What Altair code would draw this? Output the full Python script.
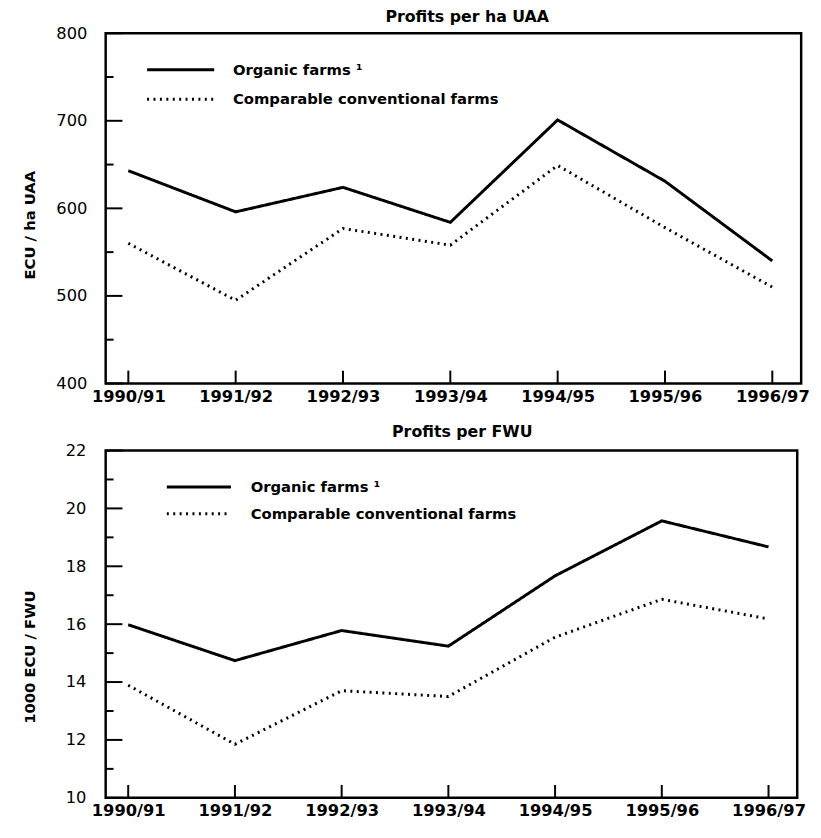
import altair as alt
import pandas as pd

periods = ["1990/91", "1991/92", "1992/93", "1993/94", "1994/95", "1995/96", "1996/97"]
series_names = ["Organic farms \u00b9", "Comparable conventional farms"]

uaa_organic = [643, 596, 624, 584, 701, 631, 540]
uaa_conventional = [560, 495, 577, 558, 649, 578, 510]
fwu_organic = [15.98, 14.74, 15.78, 15.24, 17.67, 19.57, 18.67]
fwu_conventional = [13.89, 11.85, 13.70, 13.50, 15.55, 16.86, 16.18]

uaa_major = [400, 500, 600, 700, 800]
uaa_minor = [450, 550, 650, 750]
fwu_major = [10, 12, 14, 16, 18, 20, 22]
fwu_minor = [11, 13, 15, 17, 19, 21]

FONT = "DejaVu Sans"
DASHES = [[1, 0], [2, 4.5]]


def panel(title, ytitle, organic, conventional, major, minor, w, h,
          title_dx, title_off, title_y, label_pad, leg_x, leg_len, leg_gap, leg_y, leg_dy):
    rows = []
    for p, o, c in zip(periods, organic, conventional):
        rows.append({"period": p, "series": series_names[0], "value": o})
        rows.append({"period": p, "series": series_names[1], "value": c})
    df = pd.DataFrame(rows)

    xenc = alt.X("period:N", sort=periods,
                 scale=alt.Scale(type="point", domain=periods, padding=0.24, align=0.44),
                 axis=alt.Axis(title=None, ticks=False, domain=False, grid=False,
                               labelAngle=0, labelFont=FONT, labelFontWeight="bold",
                               labelFontSize=16.5, labelColor="black", labelPadding=5))
    yenc = alt.Y("value:Q",
                 scale=alt.Scale(domain=[major[0], major[-1]], nice=False, zero=False),
                 axis=alt.Axis(title=ytitle, values=major, ticks=False, domain=False,
                               grid=False, format="d", labelFont=FONT, labelFontSize=16.5,
                               labelColor="black", labelPadding=label_pad,
                               titleFont=FONT, titleFontSize=15, titleFontWeight="bold",
                               titleColor="black", titleX=-69, titleY=title_y))

    lines = alt.Chart(df).mark_line(color="black", strokeWidth=3).encode(
        x=xenc, y=yenc,
        strokeDash=alt.StrokeDash("series:N",
                                  scale=alt.Scale(domain=series_names, range=DASHES),
                                  legend=None),
    )

    xticks = alt.Chart(pd.DataFrame({"period": periods})).mark_rule(
        color="black", strokeWidth=2).encode(
        x=xenc, y=alt.value(h), y2=alt.value(h - 13))

    major_df = pd.DataFrame({"value": major})
    minor_df = pd.DataFrame({"value": minor})
    ymaj = alt.Chart(major_df).mark_rule(color="black", strokeWidth=2).encode(
        y=yenc, x=alt.value(0), x2=alt.value(17))
    ymin = alt.Chart(minor_df).mark_rule(color="black", strokeWidth=2).encode(
        y=yenc, x=alt.value(0), x2=alt.value(8))

    legend_layers = []
    for i, name in enumerate(series_names):
        ldf = pd.DataFrame({"series": [name]})
        yy = leg_y + i * leg_dy
        legend_layers.append(
            alt.Chart(ldf).mark_rule(color="black", strokeWidth=3,
                                     strokeDash=DASHES[i]).encode(
                x=alt.value(leg_x), x2=alt.value(leg_x + leg_len), y=alt.value(yy)))
        legend_layers.append(
            alt.Chart(ldf).mark_text(align="left", baseline="middle", font=FONT,
                                     fontSize=15, fontWeight="bold", color="black").encode(
                x=alt.value(leg_x + leg_len + leg_gap), y=alt.value(yy), text="series:N"))

    return alt.layer(lines, xticks, ymaj, ymin, *legend_layers).properties(
        width=w, height=h,
        title=alt.TitleParams(title, anchor="middle", dx=title_dx, fontSize=16,
                              font=FONT, fontWeight="bold", color="black",
                              offset=title_off),
    )


top = panel("Profits per ha UAA", "ECU / ha UAA", uaa_organic, uaa_conventional,
            uaa_major, uaa_minor, 705, 355, 14, 0, 194, 19,
            42, 68, 19, 37, 30)
bottom = panel("Profits per FWU", "1000 ECU / FWU", fwu_organic, fwu_conventional,
               fwu_major, fwu_minor, 701, 352, 11, 3, 209, 20,
               62, 65, 20, 37, 27)

chart = alt.vconcat(top, bottom, spacing=16).resolve_scale(
    x="independent", y="independent", strokeDash="independent"
).properties(
    padding={"left": 13, "top": -6, "right": 2, "bottom": 0},
    background="white",
).configure_view(stroke="black", strokeWidth=2.5)

chart.save("out.html", embed_options={"renderer": "svg", "actions": False})
